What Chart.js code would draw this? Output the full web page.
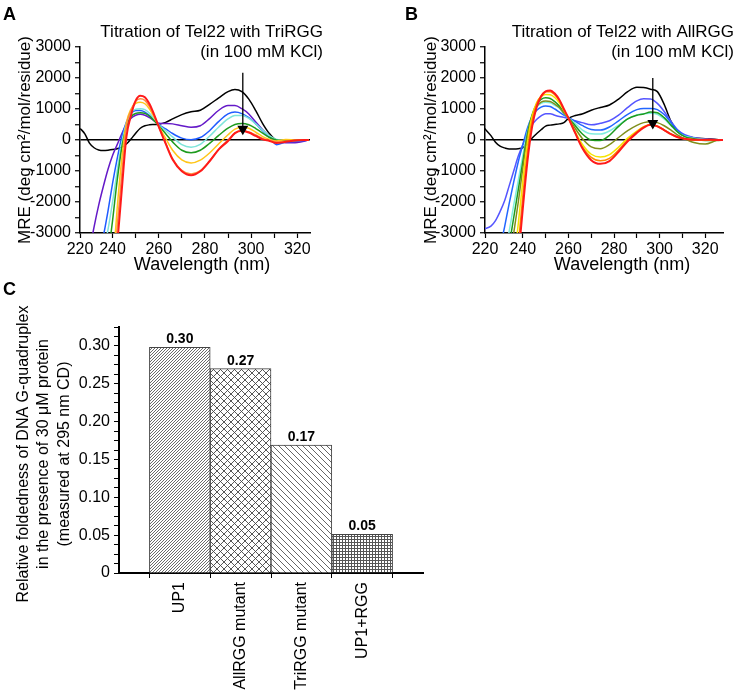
<!DOCTYPE html>
<html>
<head>
<meta charset="utf-8">
<script src="https://cdn.jsdelivr.net/npm/chart.js@4.4.1/dist/chart.umd.min.js"></script>
<style>
  html, body { margin: 0; padding: 0; background: #fff; }
  body { position: relative; width: 735px; height: 700px; overflow: hidden; }
  canvas { position: absolute; }
  #cdA { left: 0; top: 0; }
  #cdB { left: 370px; top: 0; }
  #barC { left: 0; top: 275px; }
</style>
</head>
<body>
<canvas id="cdA" width="367" height="290"></canvas>
<canvas id="cdB" width="365" height="290"></canvas>
<canvas id="barC" width="440" height="425"></canvas>
<script>
const NARROW = "'Liberation Sans Narrow', 'Arial Narrow', 'Liberation Sans', Arial, sans-serif";
const SANS = "'Liberation Sans', Arial, sans-serif";

// ---- panel A: Tel22 + TriRGG (MRE, deg cm2/mol/residue) ----
const wlA = [226, 228, 230, 232, 234, 236, 238, 240, 242, 244, 246, 248, 250, 252, 254, 256, 258, 260, 263, 266,
             270, 274, 278, 282, 286, 290, 293, 296, 299, 302, 305, 308, 311, 315, 320, 325];
const triBlack  = [370, 200, -100, -250, -320, -340, -330, -310, -280, -230, -130, 30, 220, 380, 460, 490, 500, 510, 570, 680,
                   820, 910, 960, 1150, 1360, 1560, 1630, 1560, 1320, 950, 530, 200, 0, -20, -20, 0];
const triPurple = [null, null, -3600, -2800, -2100, -1500, -950, -500, -150, 200, 500, 700, 800, 830, 800, 720, 620, 540, 530, 520,
                   460, 410, 460, 690, 960, 1110, 1110, 1010, 840, 580, 330, 110, -40, -90, -80, 0];
const triBlue   = [null, null, null, null, -3700, -3100, -2300, -1400, -600, 100, 580, 850, 950, 950, 900, 790, 640, 500, 360, 210,
                   60, 10, 80, 300, 600, 840, 900, 850, 720, 520, 300, 90, -150, -60, -40, 0];
const triCyan   = [null, null, null, null, null, -3600, -2900, -2000, -1000, -100, 550, 880, 990, 1010, 980, 860, 680, 490, 300, 100,
                   -150, -230, -140, 120, 420, 680, 790, 790, 700, 520, 320, 130, 20, 0, 0, 0];
const triGreen  = [null, null, null, null, null, -5000, -3800, -2600, -1300, -250, 420, 750, 860, 880, 860, 770, 620, 460, 200, -60,
                   -330, -410, -330, -110, 150, 380, 500, 530, 490, 370, 220, 80, 0, -20, -10, 0];
const triYellow = [null, null, null, null, null, null, -6000, -4200, -2200, -600, 550, 1000, 1180, 1220, 1170, 1000, 740, 450, 50, -330,
                   -640, -740, -650, -420, -120, 170, 350, 410, 380, 250, 110, 20, -30, 20, 0, 0];
const triOrange = [null, null, null, null, null, null, -6500, -4800, -2800, -1100, 450, 950, 1250, 1330, 1280, 1080, 790, 430, -100, -600,
                   -980, -1100, -990, -680, -300, 0, 230, 300, 260, 160, 50, -20, -60, -40, -20, 0];
const triRed    = [null, null, null, null, null, null, -7000, -5200, -3400, -1600, 100, 800, 1270, 1430, 1380, 1160, 820, 430, -120, -630,
                   -1010, -1140, -1010, -685, -300, -30, 220, 295, 240, 130, 20, -30, -100, -60, -10, 0];

// ---- panel B: Tel22 + AllRGG ----
const wlB = [223, 226, 228, 230, 232, 234, 236, 238, 240, 242, 244, 246, 248, 250, 252, 254, 256, 258, 260, 263,
             266, 270, 274, 278, 282, 286, 290, 293, 296, 299, 302, 305, 308, 311, 315, 320, 325, 328];
const allBlack  = [390, 140, -75, -200, -255, -290, -290, -280, -250, -120, 60, 200, 330, 450, 480, 500, 520, 560, 700, 790,
                   840, 960, 1050, 1130, 1320, 1560, 1700, 1690, 1640, 1560, 1150, 600, 260, 130, 70, 40, 20, 0];
const allViolet = [-2870, -2780, -2600, -2310, -1960, -1480, -1000, -520, -150, 220, 480, 660, 780, 850, 850, 800, 760, 730, 700, 620,
                   560, 490, 540, 620, 800, 1050, 1260, 1330, 1320, 1180, 920, 600, 320, 170, 80, 30, 10, 0];
const allBlue   = [null, null, null, -3500, -2800, -2050, -1350, -700, -150, 380, 750, 950, 1060, 1100, 1080, 1000, 900, 800, 720, 600,
                   470, 340, 320, 420, 620, 830, 980, 1020, 1020, 980, 820, 560, 300, 150, 60, 20, 0, 0];
const allCyan   = [null, null, null, null, -3700, -2950, -2100, -1300, -500, 250, 750, 1050, 1180, 1220, 1200, 1120, 1030, 860, 710, 530,
                   330, 200, 190, 290, 480, 680, 810, 850, 860, 830, 680, 460, 250, 120, 60, 20, 0, 0];
const allGreen  = [null, null, null, null, -4200, -3400, -2500, -1600, -700, 200, 800, 1150, 1310, 1360, 1340, 1240, 1100, 900, 710, 460,
                   200, 0, -20, 150, 440, 680, 800, 840, 900, 880, 720, 480, 250, 110, 40, -20, -10, 0];
const allOlive  = [null, null, null, null, -4800, -3900, -3000, -2000, -900, 100, 750, 1080, 1220, 1260, 1240, 1160, 1050, 870, 710, 370,
                   60, -220, -280, -150, 80, 300, 470, 560, 590, 560, 460, 320, 160, 40, -80, -130, -20, 0];
const allYellow = [null, null, null, null, null, -5200, -4000, -2700, -1300, -100, 750, 1200, 1400, 1470, 1460, 1370, 1200, 950, 700, 260,
                   -130, -460, -550, -470, -230, 60, 290, 430, 490, 440, 320, 190, 90, 40, 10, 0, 0, 0];
const allOrange = [null, null, null, null, null, null, -5000, -3400, -1800, -400, 600, 1150, 1430, 1560, 1560, 1460, 1270, 980, 700, 230,
                   -210, -560, -670, -590, -320, 0, 260, 420, 500, 450, 320, 190, 90, 40, 10, 0, 0, 0];
const allRed    = [null, null, null, null, null, null, -5500, -3800, -2200, -700, 400, 1050, 1400, 1570, 1600, 1500, 1300, 1000, 710, 220,
                   -250, -650, -770, -680, -380, -40, 230, 400, 490, 440, 320, 190, 90, 40, 10, 10, 0, 0];

const xTickLabels = ['220', '240', '260', '280', '300', '320'];

// ---- panel C: relative foldedness ----
const categoriesC = ['UP1', 'AllRGG mutant', 'TriRGG mutant', 'UP1+RGG'];
const valuesC = [0.298, 0.270, 0.169, 0.051];

// letters, titles, x-axis caption
const panelText = {
  id: 'panelText',
  afterDraw(chart, args, o) {
    const ctx = chart.ctx, a = chart.chartArea;
    ctx.save();
    ctx.fillStyle = '#000';
    ctx.textBaseline = 'alphabetic';
    ctx.textAlign = 'left';
    ctx.font = 'bold 18px ' + SANS;
    ctx.fillText(o.letter, o.letterX, 20);
    if (o.title) {
      ctx.font = '17px ' + NARROW;
      ctx.textAlign = 'right';
      o.title.forEach((t, i) => ctx.fillText(t, a.right + o.titleDx, 37 + 20 * i));
    }
    if (o.xTitle) {
      ctx.font = '18px ' + NARROW;
      ctx.textAlign = 'center';
      ctx.textBaseline = 'middle';
      ctx.fillText(o.xTitle, o.xTitleX, 265);
    }
    ctx.restore();
  }
};

function cdChart(id, wl, series, cfg) {
  const datasets = [{
    data: cfg.arrow.map(p => ({x: p[0], y: p[1]})),
    borderColor: '#000', borderWidth: 1.3,
    pointRadius: [0, 5], pointStyle: 'triangle', rotation: 180,
    pointBackgroundColor: '#000', pointBorderColor: '#000'
  }];
  series.slice().reverse().forEach(s => datasets.push({
    data: wl.map((x, i) => ({x: x, y: s.values[i]})),
    borderColor: s.color, borderWidth: s.width || 1.5,
    pointRadius: 0, cubicInterpolationMode: 'monotone'
  }));

  return new Chart(document.getElementById(id), {
    type: 'line',
    data: {datasets: datasets},
    plugins: [panelText],
    options: {
      responsive: false, animation: false, devicePixelRatio: 1,
      layout: {padding: {left: 0, top: 47, right: cfg.padRight, bottom: 0}},
      plugins: {
        legend: {display: false}, tooltip: {enabled: false},
        panelText: {letter: cfg.letter, letterX: cfg.letterX, title: cfg.title, titleDx: cfg.titleDx,
                    xTitle: 'Wavelength (nm)', xTitleX: cfg.xTitleX}
      },
      scales: {
        x: {
          type: 'linear', min: cfg.xMin, max: cfg.xMax,
          afterBuildTicks: s => { s.ticks = [cfg.xMin, 240, 250, 260, 270, 280, 290, 300, 310, 320].map(v => ({value: v})); },
          afterFit: s => { s.height = 57; },
          ticks: {
            autoSkip: false, maxRotation: 0, minRotation: 0, color: '#000', padding: 2,
            font: {family: NARROW, size: 16},
            callback: v => v === cfg.xMin ? xTickLabels[0] : (v % 20 === 0 ? xTickLabels[(v - 220) / 20] : '')
          },
          grid: {drawOnChartArea: false, color: '#000', tickLength: 5, tickWidth: 1.2},
          border: {color: '#000', width: 1.5}
        },
        y: {
          type: 'linear', min: -3000, max: 3000,
          afterBuildTicks: s => { const t = []; for (let v = -3000; v <= 3000; v += 500) t.push({value: v}); s.ticks = t; },
          afterFit: s => { s.width = cfg.yWidth; },
          ticks: {autoSkip: false, color: '#000', padding: 4, font: {family: NARROW, size: 16},
                  callback: v => v % 1000 === 0 ? String(v) : ''},
          grid: {
            color: c => (c.tick && c.tick.value === 0) ? '#000' : 'rgba(0,0,0,0)',
            lineWidth: 1.5, tickColor: '#000', tickLength: 5, tickWidth: 1.2
          },
          border: {color: '#000', width: 1.5},
          title: {display: true, text: 'MRE (deg cm\u00b2/mol/residue)', color: '#000',
                  font: {family: NARROW, size: 17}, padding: {top: cfg.yTitlePad, bottom: 0}}
        }
      }
    }
  });
}

cdChart('cdA', wlA, [
  {values: triBlack,  color: '#000000'},
  {values: triPurple, color: '#6419C8'},
  {values: triBlue,   color: '#1F5CFF'},
  {values: triCyan,   color: '#7FE5DA'},
  {values: triGreen,  color: '#1E9B1E'},
  {values: triYellow, color: '#FFC61A'},
  {values: triOrange, color: '#FF8A3D'},
  {values: triRed,    color: '#FF1A1A', width: 2}
], {
  xMin: 225.9, xMax: 325.5, yWidth: 80, padRight: 57, yTitlePad: 15, xTitleX: 202,
  letter: 'A', letterX: 3, title: ['Titration of Tel22 with TriRGG', '(in 100 mM KCl)'], titleDx: 13,
  arrow: [[296.4, 2170], [296.4, 360]]
});

cdChart('cdB', wlB, [
  {values: allBlack,  color: '#000000'},
  {values: allViolet, color: '#5555FF'},
  {values: allBlue,   color: '#2266FF'},
  {values: allCyan,   color: '#80EEDD'},
  {values: allGreen,  color: '#1E9B1E'},
  {values: allOlive,  color: '#7F8F1A'},
  {values: allYellow, color: '#F5E400'},
  {values: allOrange, color: '#FF8A00'},
  {values: allRed,    color: '#FF1A1A', width: 2}
], {
  xMin: 223.4, xMax: 327.8, yWidth: 115, padRight: 12, yTitlePad: 51, xTitleX: 252,
  letter: 'B', letterX: 35, title: ['Titration of Tel22 with AllRGG', '(in 100 mM KCl)'], titleDx: 11,
  arrow: [[297, 2000], [297, 540]]
});

// hatch fills for the bars
function hatch(kind, color) {
  const s = {up: 3, cross: 7, down: 6, grid: 3}[kind];
  const c = document.createElement('canvas');
  c.width = c.height = s;
  const g = c.getContext('2d');
  g.fillStyle = '#fff';
  g.fillRect(0, 0, s, s);
  g.strokeStyle = color;
  g.lineWidth = 0.9;
  const line = (x1, y1, x2, y2) => { g.beginPath(); g.moveTo(x1, y1); g.lineTo(x2, y2); g.stroke(); };
  if (kind === 'up' || kind === 'cross') {
    line(0, s, s, 0); line(-1, 1, 1, -1); line(s - 1, s + 1, s + 1, s - 1);
  }
  if (kind === 'down' || kind === 'cross') {
    line(0, 0, s, s); line(-1, s - 1, 1, s + 1); line(s - 1, -1, s + 1, 1);
  }
  if (kind === 'grid') {
    g.fillStyle = color;
    g.fillRect(0, 0, s, 1);
    g.fillRect(0, 0, 1, s);
  }
  return g.createPattern(c, 'repeat');
}

const barValues = {
  id: 'barValues',
  afterDatasetsDraw(chart) {
    const ctx = chart.ctx;
    ctx.save();
    ctx.font = 'bold 14px ' + SANS;
    ctx.fillStyle = '#000';
    ctx.textAlign = 'center';
    ctx.textBaseline = 'alphabetic';
    chart.getDatasetMeta(0).data.forEach((bar, i) => ctx.fillText(valuesC[i].toFixed(2), bar.x, bar.y - 4));
    ctx.restore();
  }
};

new Chart(document.getElementById('barC'), {
  type: 'bar',
  data: {
    datasets: [{
      data: categoriesC.map((c, i) => ({x: i + 1, y: valuesC[i]})),
      backgroundColor: [hatch('up', '#5a5a5a'), hatch('cross', '#444'), hatch('down', '#555'), hatch('grid', '#555')],
      borderColor: '#444', borderWidth: 1,
      categoryPercentage: 1, barPercentage: 1
    }]
  },
  plugins: [panelText, barValues],
  options: {
    responsive: false, animation: false, devicePixelRatio: 1,
    layout: {padding: {left: 0, top: 52, right: 17, bottom: 0}},
    plugins: {legend: {display: false}, tooltip: {enabled: false}, panelText: {letter: 'C', letterX: 3}},
    scales: {
      x: {
        type: 'linear', min: 0, max: 5, offset: false,
        afterBuildTicks: s => { s.ticks = categoriesC.map((c, i) => ({value: i + 1})); },
        afterFit: s => { s.height = 127; },
        ticks: {autoSkip: false, minRotation: 90, maxRotation: 90, color: '#000', padding: 4,
                font: {family: SANS, size: 16}, callback: v => categoriesC[v - 1]},
        grid: {offset: true, drawOnChartArea: false, color: '#000', tickLength: 5, tickWidth: 1},
        border: {color: '#000', width: 2}
      },
      y: {
        type: 'linear', min: 0, max: 0.325,
        afterBuildTicks: s => { const t = []; for (let k = 0; k <= 26; k++) t.push({value: k * 0.0125}); s.ticks = t; },
        afterFit: s => { s.width = 119; },
        ticks: {autoSkip: false, color: '#000', padding: 4, font: {family: SANS, size: 16},
                callback: v => { const r = v / 0.05; return Math.abs(r - Math.round(r)) < 1e-6 ? (v === 0 ? '0' : v.toFixed(2)) : ''; }},
        grid: {drawOnChartArea: false, color: '#000', tickLength: 5, tickWidth: 1},
        border: {color: '#000', width: 2},
        title: {display: true, color: '#000', font: {family: SANS, size: 16, lineHeight: 1.28}, padding: {top: 13, bottom: 0},
                text: ['Relative foldedness of DNA G-quadruplex\u2002', 'in the presence of 30 \u03bcM protein\u2002', '(measured at 295 nm CD)\u2002']}
      }
    }
  }
});
</script>
</body>
</html>
